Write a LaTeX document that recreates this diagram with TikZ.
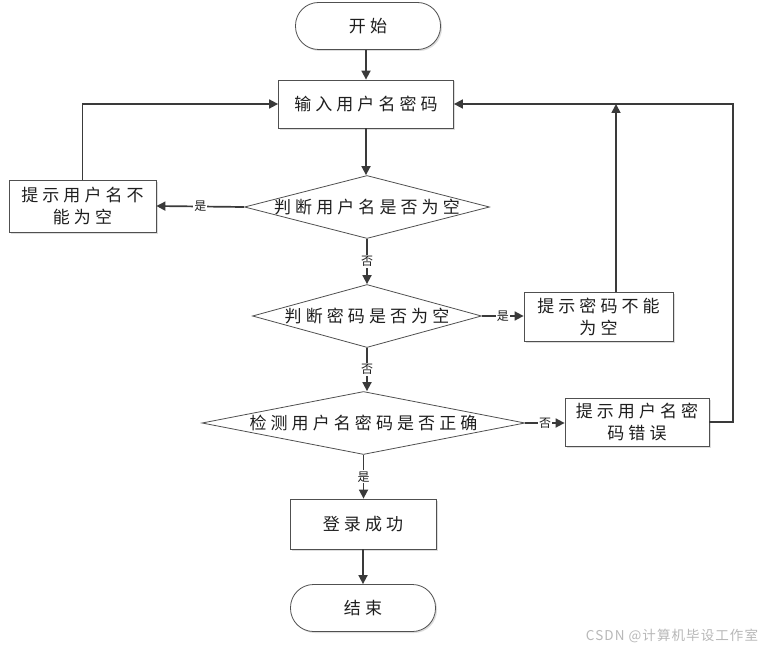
\documentclass[tikz,border=0pt]{standalone}
\usepackage{fontspec}
\setmainfont{Noto Sans CJK SC}
\newfontfamily\cjk[LetterSpace=24]{Noto Sans CJK SC}
\newfontfamily\cjklbl{Noto Sans CJK SC}
\newfontfamily\cjkwm[LetterSpace=8]{Noto Sans CJK SC}
\usetikzlibrary{shapes.geometric,arrows.meta,shadows}
\definecolor{linec}{HTML}{3A3A3A}
\definecolor{edgec}{HTML}{505050}
\definecolor{txtc}{HTML}{1E1E1E}
\tikzset{
  base/.style={draw=edgec, line width=0.8pt, fill=white, text=txtc,
    font=\cjk\fontsize{17}{22}\selectfont, align=center, inner sep=0pt,
    drop shadow={shadow xshift=1.5pt, shadow yshift=-1.5pt, fill=black!22, opacity=0.6}},
  term/.style={base, rectangle, rounded corners=23pt, minimum width=145pt, minimum height=47pt},
  proc/.style={base, rectangle, minimum height=49pt},
  dia/.style={draw=edgec, line width=0.8pt, fill=white, diamond, inner sep=0pt, aspect=3},
  dtext/.style={text=txtc, font=\cjk\fontsize{17}{22}\selectfont, inner sep=0pt},
  arr/.style={draw=linec, line width=1.7pt, -{Triangle[length=9pt,width=9pt]}},
  lbl/.style={fill=white, text=txtc, font=\cjklbl\fontsize{12}{14}\selectfont, inner sep=1pt},
}
\begin{document}
\begin{tikzpicture}[x=1pt,y=-1pt]
\useasboundingbox[fill=white] (0,0) rectangle (765,650);
\node[term] (start) at (368,26) {开始};
\node[proc, minimum width=175pt, minimum height=48pt] (in) at (366,104) {输入用户名密码};
\node[dia, minimum width=245pt, minimum height=63pt] (d1) at (367,207) {};
\node[dtext] at (d1) {判断用户名是否为空};
\node[proc, minimum width=147pt, minimum height=52pt] (b1) at (82.5,206) {提示用户名不\\能为空};
\node[dia, minimum width=229pt, minimum height=63pt] (d2) at (367,316) {};
\node[dtext] at (d2) {判断密码是否为空};
\node[proc, minimum width=149pt, minimum height=49pt] (b2) at (598.5,317) {提示密码不能\\为空};
\node[dia, minimum width=323pt, minimum height=63pt] (d3) at (363.5,423) {};
\node[dtext] at (d3) {检测用户名密码是否正确};
\node[proc, minimum width=144pt, minimum height=48pt] (b3) at (637,422) {提示用户名密\\码错误};
\node[proc, minimum width=146pt, minimum height=50pt] (ok) at (363,524) {登录成功};
\node[term] (end) at (363,608) {结束};
\coordinate (c2) at (616,104);
\coordinate (c3) at (733,104);
\node[text=black!28, font=\cjkwm\fontsize{13.5}{15}\selectfont, inner sep=0pt] (wm) at (672,636) {CSDN @计算机毕设工作室};

\draw[arr] (start.south -| in.north) -- (in.north);
\draw[arr] (in.south) -- (in.south |- d1.north);
\draw[arr] (d1.west) -- node[lbl] {是} (b1.east);
\draw[arr] (b1.north) |- (in.west);
\draw[arr] (d1.south) -- node[lbl] {否} (d1.south |- d2.north);
\draw[arr] (d2.east) -- node[lbl] {是} (d2.east -| b2.west);
\draw[arr] (c2 |- b2.north) -- (c2);
\draw[arr] (d2.south) -- node[lbl] {否} (d2.south |- d3.north);
\draw[arr] (d3.east) -- node[lbl] {否} (d3.east -| b3.west);
\draw[arr] (b3.east) -| (c3) -- (in.east);
\draw[arr] (d3.south) -- node[lbl] {是} (d3.south |- ok.north);
\draw[arr] (ok.south) -- (end.north);
\end{tikzpicture}
\end{document}
